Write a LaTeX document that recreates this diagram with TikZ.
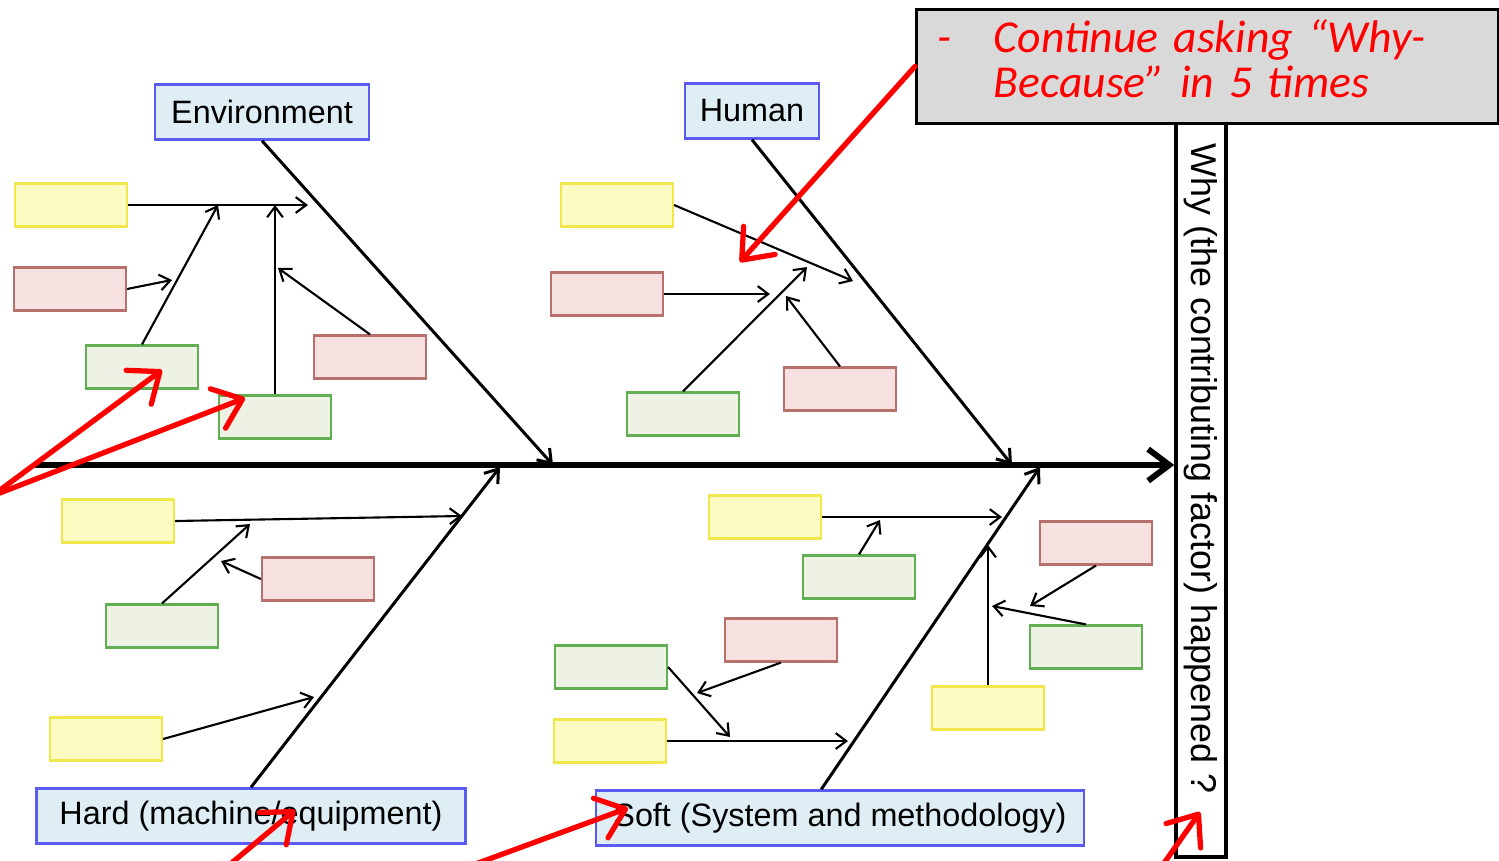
\documentclass[tikz,border=0pt]{standalone}
\usepackage{fontspec}
\setmainfont{Liberation Sans}
\newfontfamily\notefont{Carlito}
\usetikzlibrary{arrows.meta}

\definecolor{catfill}{HTML}{DFEEF5}
\definecolor{catline}{HTML}{5B5BF2}
\definecolor{yfill}{HTML}{FBFBC2}
\definecolor{yline}{HTML}{F0E84A}
\definecolor{pfill}{HTML}{F4E1E0}
\definecolor{pline}{HTML}{B8706C}
\definecolor{gfill}{HTML}{EEF2E4}
\definecolor{gline}{HTML}{62AE52}
\definecolor{notefill}{HTML}{D9D9D9}

\tikzset{
  smallbox/.style={line width=0.6pt, minimum width=1.12cm, minimum height=0.43cm, inner sep=0pt},
  ybox/.style={smallbox, draw=yline, fill=yfill},
  pbox/.style={smallbox, draw=pline, fill=pfill},
  gbox/.style={smallbox, draw=gline, fill=gfill},
  catbox/.style={draw=catline, fill=catfill, line width=0.7pt, minimum height=0.55cm, inner sep=0pt, font=\fontsize{9.2}{11}\selectfont},
  spine/.style={line width=1.7pt, -{Straight Barb[length=6pt,width=9pt]}},
  bone/.style={line width=0.85pt, -{Straight Barb[length=3.5pt,width=5pt]}},
  twig/.style={line width=0.6pt, -{Straight Barb[length=3pt,width=4.5pt]}},
  redarrow/.style={red, line width=1.5pt, line cap=round, -{Straight Barb[length=7.5pt,width=12pt,round]}}
}

\begin{document}
\begin{tikzpicture}[x=0.01cm, y=-0.01cm]
    \useasboundingbox (0,0) rectangle (1499,860);
    \clip (0,0) rectangle (1499,860);

    % categories
    \node[catbox, minimum width=2.14cm] (env) at (262,112) {Environment};
    \node[catbox, minimum width=1.34cm] (human) at (752,111) {Human};
    \node[catbox, minimum width=4.29cm] (hard) at (251,816) {Hard (machine/equipment)};
    \node[catbox, minimum width=4.88cm] (soft) at (840,818) {Soft (System and methodology)};

    % effect
    \node[draw, line width=1pt, minimum width=0.5cm, minimum height=7.35cm, inner sep=0pt] (why) at (1201,489.5) {};
    \node[rotate=-90, anchor=west, inner sep=0pt, font=\fontsize{10.2}{12}\selectfont] (whytext) at (1201,143) {Why (the contributing factor) happened ?};

    % spine and bones
    \coordinate (tail) at (35,465);
    \draw[spine] (tail) -- (tail -| why.west);
    \coordinate (envtip) at (553,465);
    \coordinate (humantip) at (1012,465);
    \coordinate (hardtip) at (500,467);
    \coordinate (softtip) at (1040,467);
    \draw[bone] (env.south) -- (envtip);
    \draw[bone] (human.south) -- (humantip);
    \draw[bone] (hard.north) -- (hardtip);
    \draw[bone] (soft.123) -- (softtip);

    % cause boxes
    \foreach \n/\s/\x/\y in {
        ey1/ybox/71/205, ep1/pbox/70/289, eg1/gbox/142/367, eg2/gbox/275/417, ep2/pbox/370/357,
        hy1/ybox/617/205, hp1/pbox/607/294, hg1/gbox/683/414, hp2/pbox/840/389,
        ky1/ybox/118/521, kp1/pbox/318/579, kg1/gbox/162/626, ky2/ybox/106/739,
        sy1/ybox/765/517, sg1/gbox/859/577, sp1/pbox/781/640, sg2/gbox/611/667, sy2/ybox/610/741,
        sp2/pbox/1096/543, sg3/gbox/1086/647, sy3/ybox/988/708}
    {
        \node[\s] (\n) at (\x,\y) {};
    }

    \foreach \n/\x/\y in {e1/308/205, e2/218/205, e3/172/280, e4/275/205, e5/278/268,
        h1/853/281, h2/770/294, h3/807/267, h4/786/296,
        k1/462/516, k2/250/524, k3/221/561, k4/314/697,
        s1/1002/517, s2/880/520, s3/697/693, s4/730/737, s5/848/741, s6/988/545, s7/992/606, s8/1030/606}
    {
        \coordinate (\n) at (\x,\y);
    }

    \foreach \a/\b in {ey1.east/e1, eg1.north/e2, ep1.east/e3, eg2.north/e4, ep2.north/e5,
        hy1.east/h1, hp1.east/h2, hg1.north/h3, hp2.north/h4,
        ky1.east/k1, kg1.north/k2, kp1.west/k3, ky2.east/k4,
        sy1.east/s1, sg1.north/s2, sp1.south/s3, sg2.east/s4, sy2.east/s5, sy3.north/s6, sg3.north/s7, sp2.south/s8}
    {
        \draw[twig] (\a) -- (\b);
    }

    % note
    \node[draw, line width=0.8pt, fill=notefill, anchor=north west, minimum width=5.82cm, minimum height=1.14cm, inner sep=0pt] (note) at (915,8) {};
    \node[anchor=west, text width=5.38cm, inner sep=0pt, align=left, text=red,
        font=\notefont\itshape\fontsize{13}{12.8}\selectfont] (notetext) at (937,59)
        {\makebox[0.56cm][l]{-}Continue asking “Why-\\\hspace*{0.56cm}Because” in 5 times};

    % red pointers
    \coordinate (r0) at (-8,496);
    \coordinate (r1) at (162,370);
    \coordinate (r2) at (245,398);
    \coordinate (r3a) at (228,866);
    \coordinate (r3) at (295,810);
    \coordinate (r4a) at (470,866);
    \coordinate (r4) at (628,808);
    \coordinate (r5a) at (1162,866);
    \coordinate (r5) at (1200,812);
    \coordinate (r6) at (740,262);
    \draw[redarrow] (r0) -- (r1);
    \draw[redarrow] (r0) -- (r2);
    \draw[redarrow] (r3a) -- (r3);
    \draw[redarrow] (r4a) -- (r4);
    \draw[redarrow] (r5a) -- (r5);
    \draw[redarrow] (note.west) -- (r6);
\end{tikzpicture}
\end{document}
